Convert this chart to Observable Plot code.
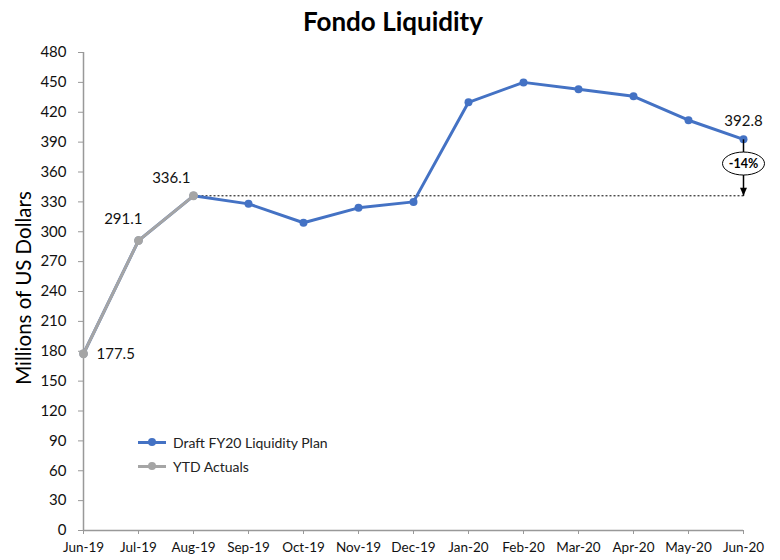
<!DOCTYPE html>
<html>
<head>
<meta charset="utf-8">
<script src="https://cdn.jsdelivr.net/npm/d3@7"></script>
<script src="https://cdn.jsdelivr.net/npm/@observablehq/plot@0.6"></script>
<style>
  body { margin: 0; background: #fff; font-family: Lato, "Open Sans", sans-serif; }
  #wrap { position: relative; width: 780px; height: 560px; }
  #title { height: 40px; line-height: 42px; text-align: center; font-weight: bold; font-size: 26px; color: #000; padding-left: 6px; }
  #ylabel { position: absolute; left: -127px; top: 276px; width: 300px; text-align: center; font-size: 20.5px; line-height: 24px; color: #000; transform: rotate(-90deg); transform-origin: 150px 12px; }
  #legend { position: absolute; left: 138px; top: 430px; font-size: 14px; color: #222; }
  .li { display: flex; align-items: center; height: 24px; }
  .sw { position: relative; width: 28px; height: 12px; margin-right: 7px; }
  .sw .ln { position: absolute; left: 0; right: 0; top: 4.5px; height: 3px; }
  .sw .dt { position: absolute; left: 10px; top: 2px; width: 8px; height: 8px; border-radius: 50%; }
</style>
</head>
<body>
<div id="wrap">
  <div id="title">Fondo Liquidity</div>
  <div id="chart"></div>
  <div id="ylabel"></div>
  <div id="legend"></div>
</div>
<script>
const months = ["Jun-19","Jul-19","Aug-19","Sep-19","Oct-19","Nov-19","Dec-19","Jan-20","Feb-20","Mar-20","Apr-20","May-20","Jun-20"];
const planValues = [177.5, 291.1, 336.1, 328, 309, 324, 330, 430, 450, 443, 436, 412, 392.8];
const actualMonths = ["Jun-19","Jul-19","Aug-19"];
const actualValues = [177.5, 291.1, 336.1];
const yTicks = [0,30,60,90,120,150,180,210,240,270,300,330,360,390,420,450,480];
const seriesNames = ["Draft FY20 Liquidity Plan", "YTD Actuals"];
const colors = ["#4472C4", "#A5A5A5"];
const yLabel = "Millions of US Dollars";
const changeLabel = "-14%";
const changeFrom = 392.8, changeTo = 336.1, changeMid = 368.5;

const plan = months.map((m, i) => ({month: m, value: planValues[i]}));
const actual = actualMonths.map((m, i) => ({month: m, value: actualValues[i]}));

const labels = [
  {month: "Jun-19", value: 177.5, text: "177.5", anchor: "start", dx: 13, dy: 0},
  {month: "Jul-19", value: 291.1, text: "291.1", anchor: "end", dx: 4, dy: -21},
  {month: "Aug-19", value: 336.1, text: "336.1", anchor: "end", dx: -3, dy: -18},
  {month: "Jun-20", value: 392.8, text: "392.8", anchor: "middle", dx: 0, dy: -18}
];

const ellipse = {
  draw(ctx) {
    const rx = 21, ry = 11.5, k = 0.5523;
    ctx.moveTo(rx, 0);
    ctx.bezierCurveTo(rx, k * ry, k * rx, ry, 0, ry);
    ctx.bezierCurveTo(-k * rx, ry, -rx, k * ry, -rx, 0);
    ctx.bezierCurveTo(-rx, -k * ry, -k * rx, -ry, 0, -ry);
    ctx.bezierCurveTo(k * rx, -ry, rx, -k * ry, rx, 0);
    ctx.closePath();
  }
};
const arrowHead = {
  draw(ctx) {
    ctx.moveTo(0, 0);
    ctx.lineTo(-3.5, -8);
    ctx.lineTo(3.5, -8);
    ctx.closePath();
  }
};

const chart = Plot.plot({
  width: 780,
  height: 520,
  marginTop: 12,
  marginBottom: 30,
  marginLeft: 83,
  marginRight: 37,
  style: {fontFamily: "Lato, 'Open Sans', sans-serif", color: "#111", background: "#fff"},
  x: {type: "point", domain: months, padding: 0},
  y: {domain: [0, 480]},
  marks: [
    Plot.axisY({ticks: yTicks, tickSize: 5, tickPadding: 12, fontSize: 15, label: null, stroke: "#999"}),
    Plot.axisX({tickSize: 4, tickPadding: 8, fontSize: 13.5, label: null, stroke: "#999"}),
    Plot.ruleY([0], {stroke: "#999", strokeWidth: 1.5}),
    Plot.ruleX([months[0]], {stroke: "#999", strokeWidth: 1.5}),
    Plot.link([{a: "Aug-19", b: "Jun-20", v: changeTo}], {x1: "a", x2: "b", y1: "v", y2: "v", stroke: "#000", strokeWidth: 1, strokeDasharray: "2,2"}),
    Plot.line(plan, {x: "month", y: "value", stroke: colors[0], strokeWidth: 3}),
    Plot.dot(plan, {x: "month", y: "value", fill: colors[0], r: 4}),
    Plot.line(actual, {x: "month", y: "value", stroke: colors[1], strokeWidth: 3}),
    Plot.dot(actual, {x: "month", y: "value", fill: colors[1], r: 4.5}),
    Plot.link([{m: "Jun-20", a: changeFrom, b: changeTo}], {x1: "m", x2: "m", y1: "a", y2: "b", stroke: "#000", strokeWidth: 1.5}),
    Plot.dot([{m: "Jun-20", v: changeTo}], {x: "m", y: "v", symbol: arrowHead, fill: "#000", stroke: null}),
    Plot.dot([{m: "Jun-20", v: changeMid}], {x: "m", y: "v", symbol: ellipse, fill: "#fff", stroke: "#000", strokeWidth: 1}),
    Plot.text([{m: "Jun-20", v: changeMid, t: changeLabel}], {x: "m", y: "v", text: "t", fontWeight: "bold", fontSize: 12.5, fill: "#000"}),
    ...labels.map(l => Plot.text([l], {x: "month", y: "value", text: "text", textAnchor: l.anchor, dx: l.dx, dy: l.dy, fontSize: 15, fill: "#111"}))
  ]
});
document.getElementById("chart").appendChild(chart);
document.getElementById("ylabel").textContent = yLabel;

const legend = document.getElementById("legend");
seriesNames.forEach((name, i) => {
  const row = document.createElement("div");
  row.className = "li";
  row.innerHTML = `<div class="sw"><div class="ln" style="background:${colors[i]}"></div><div class="dt" style="background:${colors[i]}"></div></div><span>${name}</span>`;
  legend.appendChild(row);
});
</script>
</body>
</html>
